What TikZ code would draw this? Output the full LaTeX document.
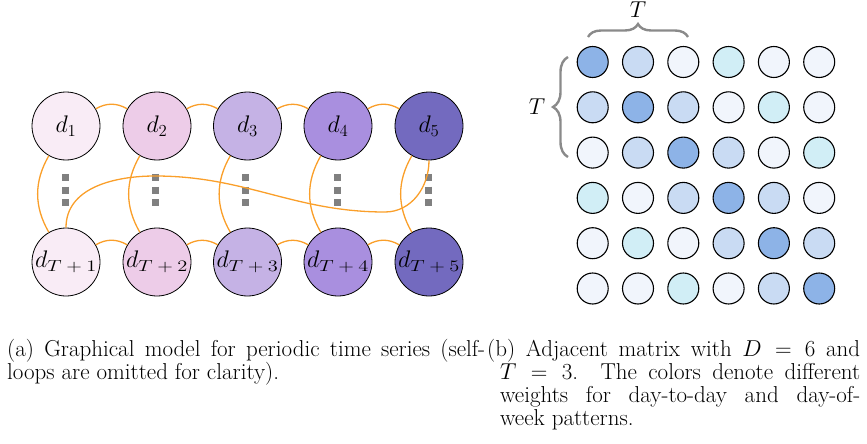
\RequirePackage{fix-cm}
\documentclass[tikz,border=0pt]{standalone}
\usepackage{graphicx}
\usetikzlibrary{decorations.pathreplacing}
\definecolor{ncA}{HTML}{F9ECF6}
\definecolor{ncB}{HTML}{EDCCE8}
\definecolor{ncC}{HTML}{C5B2E5}
\definecolor{ncD}{HTML}{A98FDF}
\definecolor{ncE}{HTML}{736ABF}
\definecolor{mdark}{HTML}{8DB3E7}
\definecolor{mlb}{HTML}{C9DBF3}
\definecolor{mcy}{HTML}{D1EEF6}
\definecolor{mwh}{HTML}{F1F5FC}
\colorlet{mc0}{mdark}
\colorlet{mc1}{mlb}
\colorlet{mc2}{mwh}
\colorlet{mc3}{mcy}
\colorlet{mc4}{mwh}
\colorlet{mc5}{mwh}
\definecolor{edgeorange}{HTML}{FA9F2A}
\definecolor{dotgray}{HTML}{808080}
\definecolor{bracegray}{HTML}{8A8A8A}
\newcommand\subsc[1]{\scalebox{1.28}[1]{\fontsize{16}{16}\selectfont$#1$}}
\begin{document}
\begin{tikzpicture}[x=1pt,y=1pt,
  gnode/.style={circle, draw=black, line width=0.8pt, minimum size=68pt, inner sep=0pt, font=\fontsize{24}{28}\selectfont},
  mnode/.style={circle, draw=black, line width=1.1pt, minimum size=31pt, inner sep=0pt},
  oedge/.style={draw=edgeorange, line width=1.3pt},
  vdot/.style={draw=dotgray, line width=7pt, dash pattern=on 7pt off 5.7pt},
  bracestyle/.style={draw=bracegray, line width=2.4pt, decorate, decoration={brace, amplitude=#1}},
  captext/.style={anchor=base west, inner sep=0pt, font=\fontsize{23}{27}\selectfont},
  tlabel/.style={inner sep=0pt, font=\fontsize{23}{27}\selectfont}
]
\useasboundingbox (0,0) rectangle (867,-444);

% vertical dots
\foreach \x in {65,155.7,245.7,337,428}{
  \draw[vdot] (\x,-173.8) -- (\x,-206.2);
}

% graph nodes
\node[gnode, fill=ncA] (t1) at (66,-126) {$d_1$};
\node[gnode, fill=ncB] (t2) at (157,-126) {$d_2$};
\node[gnode, fill=ncC] (t3) at (247.5,-126) {$d_3$};
\node[gnode, fill=ncD] (t4) at (338,-126) {$d_4$};
\node[gnode, fill=ncE] (t5) at (429,-126) {$d_5$};
\node[gnode, fill=ncA] (b1) at (66,-262) {$d_{\hbox{\subsc{T+1}}}$};
\node[gnode, fill=ncB] (b2) at (157,-262) {$d_{\hbox{\subsc{T+2}}}$};
\node[gnode, fill=ncC] (b3) at (247.5,-262) {$d_{\hbox{\subsc{T+3}}}$};
\node[gnode, fill=ncD] (b4) at (338,-262) {$d_{\hbox{\subsc{T+4}}}$};
\node[gnode, fill=ncE] (b5) at (429,-262) {$d_{\hbox{\subsc{T+5}}}$};

% edges
\foreach \a/\b in {1/2,2/3,3/4,4/5}{
  \draw[oedge] (t\a) to[out=30,in=150] (t\b);
  \draw[oedge] (b\a) to[out=30,in=150] (b\b);
}
\foreach \a in {1,...,5}{
  \draw[oedge] (t\a) to[out=-120,in=120] (b\a);
}
\coordinate (c1) at (155,-176);
\coordinate (c2) at (385,-212);
\draw[oedge] (b1.north) to[out=90,in=180] (c1) to[out=0,in=180] (c2) to[out=0,in=-90] (t5.south);

% matrix
\foreach \i in {1,...,6}{
  \foreach \j in {1,...,6}{
    \pgfmathtruncatemacro\dd{abs(\i-\j)}
    \node[mnode, fill=mc\dd] (m-\i-\j) at ({592.7+45.3*(\j-1)},{-62-45.3*(\i-1)}) {};
  }
}

% braces
\draw[bracestyle=13pt] (588,-37) -- (688,-37);
\node[tlabel, anchor=base] (ttop) at (638,-17.5) {$T$};
\draw[bracestyle=15pt] (568,-157) -- (568,-57);
\node[tlabel] (tleft) at (537,-107) {$T$};

% captions
\node[captext] (capa1) at (7,-356) {\makebox[478pt][s]{(a) Graphical model for periodic time series (self-}};
\node[captext] (capa2) at (7,-379) {loops are omitted for clarity).};
\node[captext] (capb1) at (487,-356) {\makebox[373pt][s]{(b) Adjacent matrix with $D = 6$ and}};
\node[captext] (capb2) at (500,-379) {\makebox[360pt][s]{$T = 3$. The colors denote different}};
\node[captext] (capb3) at (500,-402) {\makebox[360pt][s]{weights for day-to-day and day-of-}};
\node[captext] (capb4) at (500,-425) {week patterns.};
\end{tikzpicture}
\end{document}
